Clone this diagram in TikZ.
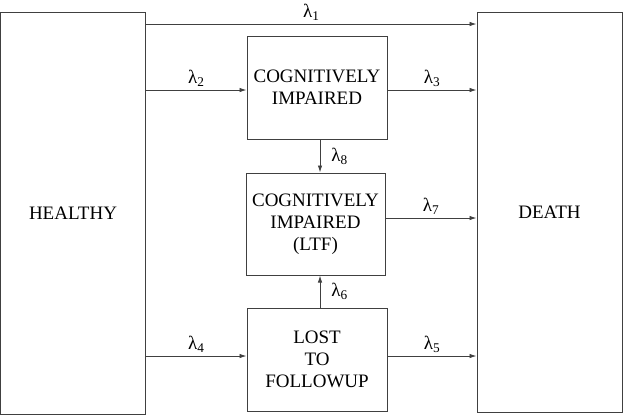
\documentclass[tikz,border=0pt]{standalone}
\usepackage{fontspec}
\setmainfont{Liberation Serif}
\usetikzlibrary{arrows.meta}

\begin{document}
\begin{tikzpicture}[x=1pt,y=-1pt,
  every node/.style={font=\fontsize{19}{22}\selectfont},
  box/.style={draw=black!75,line width=1pt,align=center,inner sep=0pt},
  trans/.style={draw=black!75,line width=0.9pt,-{Latex[length=7pt,width=4.5pt]}},
  rate/.style={inner sep=3pt},
  siderate/.style={inner sep=3pt,xshift=8pt}]
  \useasboundingbox (0,0) rectangle (623,418);
  \node[box,minimum width=145pt,minimum height=401.5pt] (healthy) at (73,213.25) {HEALTHY};
  \node[box,minimum width=145pt,minimum height=400pt] (death) at (549.5,212) {DEATH};
  \node[box,minimum width=140pt,minimum height=103pt] (ci) at (317,87.5) {COGNITIVELY\\IMPAIRED};
  \node[box,minimum width=139pt,minimum height=102pt] (ltf) at (315.5,224) {COGNITIVELY\\IMPAIRED\\(LTF)};
  \node[box,minimum width=140pt,minimum height=103pt] (lost) at (317,359.5) {LOST\\TO\\FOLLOWUP};
  \draw[trans] (healthy.east |- 0,24) -- node[rate,above] {λ\textsubscript{1}} (death.west |- 0,24);
  \draw[trans] (healthy.east |- 0,90) -- node[rate,above] {λ\textsubscript{2}} (ci.west |- 0,90);
  \draw[trans] (ci.east |- 0,90) -- node[rate,above] {λ\textsubscript{3}} (death.west |- 0,90);
  \draw[trans] (ci.south -| 320,0) -- node[siderate,right] {λ\textsubscript{8}} (ltf.north -| 320,0);
  \draw[trans] (ltf.east |- 0,218) -- node[rate,above] {λ\textsubscript{7}} (death.west |- 0,218);
  \draw[trans] (lost.north -| 320,0) -- node[siderate,right] {λ\textsubscript{6}} (ltf.south -| 320,0);
  \draw[trans] (healthy.east |- 0,356) -- node[rate,above] {λ\textsubscript{4}} (lost.west |- 0,356);
  \draw[trans] (lost.east |- 0,356) -- node[rate,above] {λ\textsubscript{5}} (death.west |- 0,356);
\end{tikzpicture}
\end{document}
